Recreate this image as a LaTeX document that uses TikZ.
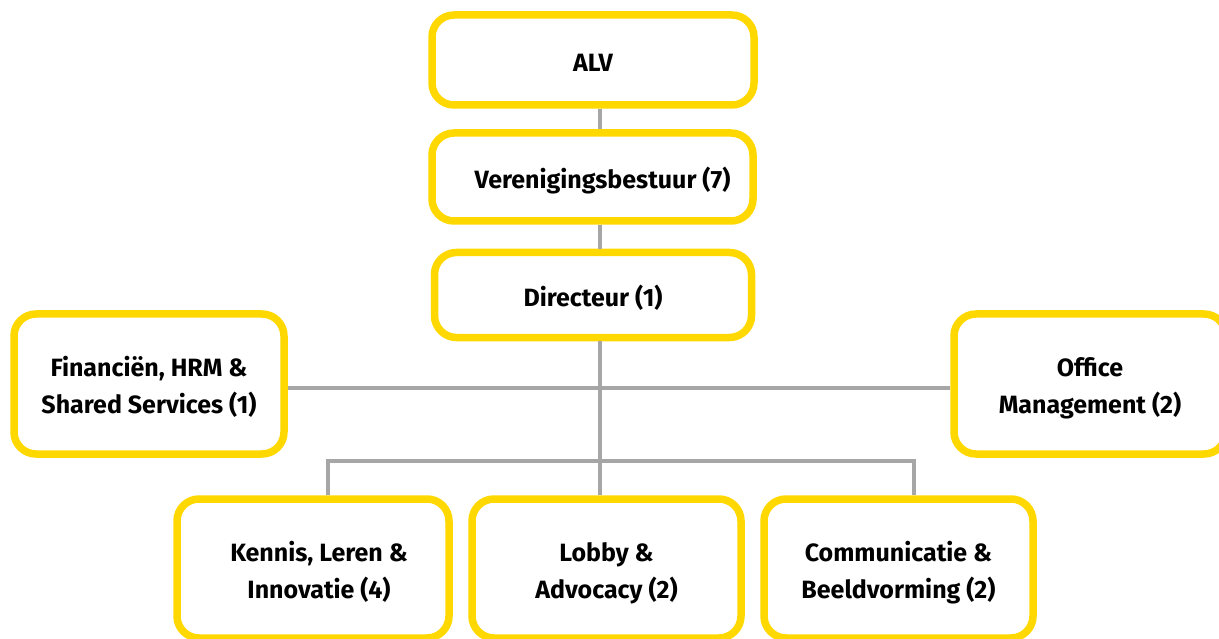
\documentclass[tikz,border=0pt]{standalone}
\usepackage{fontspec}
\setmainfont{Fira Sans}
\definecolor{boxyellow}{HTML}{FFD800}
\definecolor{linegray}{HTML}{A6A6A6}
\newcommand\boxtext[1]{\raisebox{-4pt}[\height][\depth]{\begin{tabular}{@{}c@{}}#1\end{tabular}}}
\tikzset{
  orgbox/.style={draw=boxyellow, line width=7.5pt, fill=white, rounded corners=22pt,
    align=center, font=\fontsize{25}{37}\selectfont\bfseries, inner sep=0pt},
  link/.style={draw=linegray, line width=4pt}
}
\begin{document}
\begin{tikzpicture}[x=1pt,y=-1pt]
\useasboundingbox (0,0) rectangle (1219,639);
\node[orgbox, minimum width=322pt, minimum height=90pt] (alv) at (593,60) {\boxtext{ALV}};
\node[orgbox, minimum width=321pt, minimum height=88pt] (vb) at (592.5,177) {\boxtext{\hspace*{20pt}Verenigingsbestuur (7)}};
\node[orgbox, minimum width=317pt, minimum height=85pt] (dir) at (593,295) {\boxtext{Directeur (1)}};
\node[orgbox, minimum width=270pt, minimum height=140pt] (fin) at (149,384) {\boxtext{Financiën, HRM \&\\Shared Services (1)}};
\node[orgbox, minimum width=272pt, minimum height=140pt] (office) at (1090,384) {\boxtext{Office\\Management (2)}};
\node[orgbox, minimum width=272pt, minimum height=139pt] (kennis) at (313,568.5) {\boxtext{\hspace*{12pt}Kennis, Leren \&\\\hspace*{12pt}Innovatie (4)}};
\node[orgbox, minimum width=269pt, minimum height=139pt] (lobby) at (606.5,568.5) {\boxtext{Lobby \&\\Advocacy (2)}};
\node[orgbox, minimum width=269pt, minimum height=139pt] (comm) at (898.5,568.5) {\boxtext{Communicatie \&\\Beeldvorming (2)}};
\coordinate (spine) at (600,0);
\coordinate (hy) at (0,388);
\coordinate (bl) at (328,461);
\coordinate (br) at (914,461);
\draw[link] (alv.south -| spine) -- (vb.north -| spine);
\draw[link] (vb.south -| spine) -- (dir.north -| spine);
\draw[link] (dir.south -| spine) -- (lobby.north -| spine);
\draw[link] (fin.east |- hy) -- (office.west |- hy);
\draw[link] (kennis.north -| bl) -- (bl) -- (br) -- (comm.north -| br);
\end{tikzpicture}
\end{document}
